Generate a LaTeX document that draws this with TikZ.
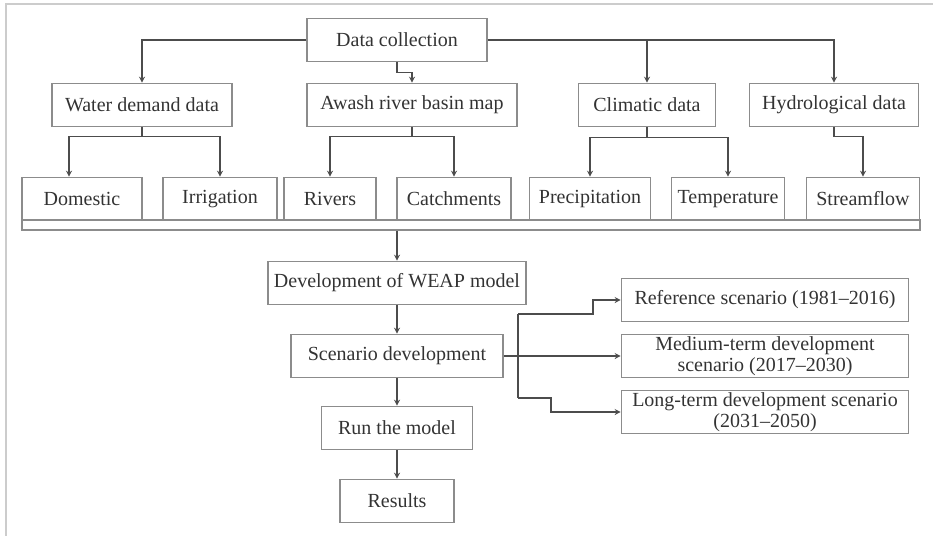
\documentclass[tikz,border=0pt]{standalone}
\usepackage{fontspec}
\setmainfont{Liberation Serif}
\usetikzlibrary{arrows.meta}

\begin{document}
\begin{tikzpicture}[x=0.5pt,y=-0.5pt]
\useasboundingbox (0,0) rectangle (933,536);
\draw[black!20, line width=1pt] (6,536) -- (6,4) -- (933,4);

\begin{scope}[every node/.style={draw=black!45,thick,text=black!80,minimum height=21.5pt,
                                 inner sep=0pt,align=center,font=\fontsize{10}{10.5}\selectfont}]
    \node[minimum width=90pt] (dc) at (397,40) {Data collection};
    \node[minimum width=90pt] (wd) at (142,105) {Water demand data};
    \node[minimum width=105pt] (abm) at (412,105) {Awash river basin map};
    \node[minimum width=68.5pt] (cd) at (647,105) {Climatic data};
    \node[minimum width=84.5pt] (hd) at (834,105) {Hydrological data};
    \node[minimum width=60pt] (dom) at (82,199) {Domestic};
    \node[minimum width=57pt] (irr) at (220,199) {Irrigation};
    \node[minimum width=46pt] (riv) at (330,199) {Rivers};
    \node[minimum width=57pt] (cat) at (454,199) {Catchments};
    \node[minimum width=60.5pt] (pre) at (590,199) {Precipitation};
    \node[minimum width=56.5pt] (tem) at (728,199) {Temperature};
    \node[minimum width=56.5pt] (sf) at (863,199) {Streamflow};
    \node[minimum width=449pt,minimum height=5pt] (bar) at (471,225) {};
    \node[minimum width=129pt] (dev) at (397,283) {Development of WEAP model};
    \node[minimum width=106pt] (sd) at (397,356) {Scenario development};
    \node[minimum width=75.5pt] (run) at (397,428) {Run the model};
    \node[minimum width=57pt] (res) at (397,501) {Results};
    \node[minimum width=143.5pt] (ref) at (765,300) {Reference scenario (1981--2016)};
    \node[minimum width=143.5pt] (med) at (765,356) {Medium-term development\\ scenario (2017--2030)};
    \node[minimum width=143.5pt] (lts) at (765,412) {Long-term development scenario\\ (2031--2050)};
\end{scope}

\begin{scope}[>={Stealth[length=3pt,width=3pt]}, black!70, thick]
    \draw[->] (dc.west) -| (wd.north);
    \draw[->] (dc.south) -- ++(0,10) -| (abm.north);
    \draw[->] (dc.east) -| (hd.north);
    \draw[->] (cd.north |- dc.east) -- (cd.north);

    \draw (wd.south) -- ++(0,9) coordinate (wdj);
    \draw[->] (wdj) -| ([xshift=-6.5pt]dom.north);
    \draw[->] (wdj) -| (irr.north);
    \draw (abm.south) -- ++(0,9) coordinate (abj);
    \draw[->] (abj) -| (riv.north);
    \draw[->] (abj) -| (cat.north);
    \draw (cd.south) -- ++(0,10) coordinate (cdj);
    \draw[->] (cdj) -| (pre.north);
    \draw[->] (cdj) -| (tem.north);
    \draw[->] (hd.south) -- ++(0,9) -| (sf.north);

    \draw[->] (bar.south -| dev.north) -- (dev.north);
    \draw[->] (dev) -- (sd);
    \draw[->] (sd) -- (run);
    \draw[->] (run) -- (res);

    \coordinate (st) at (518,314);
    \coordinate (sb) at (518,398);
    \draw (st) -- (sb);
    \draw[->] (sd.east) -- (med.west);
    \draw[->] (st) -- ++(75,0) |- (ref.west);
    \draw[->] (sb) -- ++(33,0) |- (lts.west);
\end{scope}
\end{tikzpicture}
\end{document}
